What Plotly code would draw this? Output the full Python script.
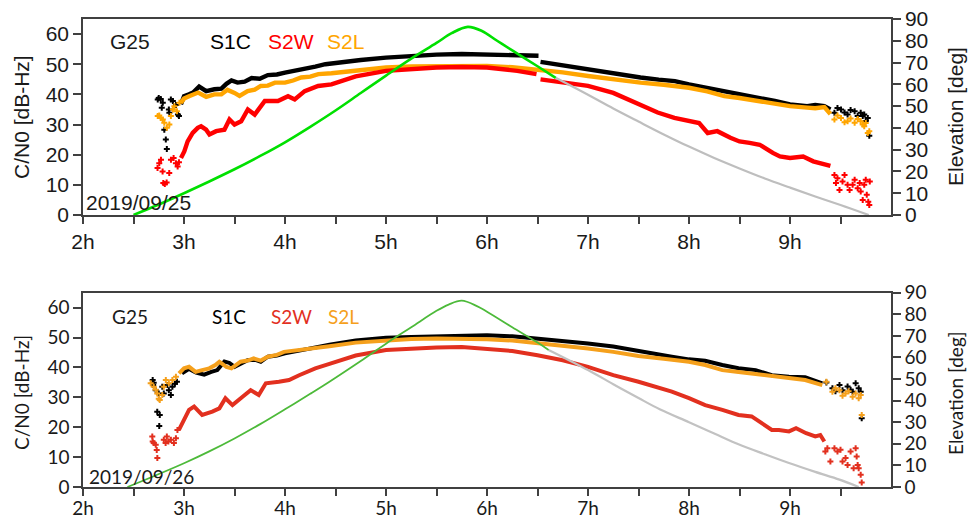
import plotly.graph_objects as go

# ---------------- 2019/09/25 ----------------
# S1C (dense band, None marks the tracking break)
d25_s1c_band_t = [2.97, 3.0, 3.05, 3.09, 3.15, 3.22, 3.3, 3.37, 3.42, 3.47, 3.53, 3.6, 3.67, 3.75, 3.83,
                  3.92, 4.0, 4.1, 4.2, 4.3, 4.4, 4.46, 4.6, 4.75, 5.0, 5.25, 5.5, 5.75, 6.0, 6.25, 6.51,
                  None, 6.53, 6.75, 7.0, 7.25, 7.52, 7.7, 7.86, 8.0, 8.18, 8.35, 8.5, 8.68, 8.85, 9.0,
                  9.1, 9.17, 9.25, 9.34, 9.4]
d25_s1c_band_v = [36.7, 39.4, 40.0, 40.6, 42.6, 41.1, 41.7, 41.9, 43.5, 44.6, 43.9, 44.2, 45.4, 45.2, 46.4,
                  46.6, 47.2, 47.8, 48.6, 49.2, 50.0, 50.3, 50.9, 51.4, 52.2, 52.8, 53.2, 53.4, 53.3, 53.1, 52.8,
                  None, 50.8, 49.6, 48.3, 46.8, 45.6, 44.9, 44.4, 43.3, 42.2, 41.1, 40.0, 38.9, 37.8, 36.7,
                  36.3, 36.1, 36.5, 36.1, 35.0]
d25_s1c_pts_t = [2.74, 2.75, 2.77, 2.78, 2.79, 2.805, 2.82, 2.83, 2.85, 2.855, 2.87, 2.89, 2.92, 2.94, 2.95,
                 9.44, 9.47, 9.505, 9.54, 9.57, 9.6, 9.64, 9.67, 9.70, 9.72, 9.735, 9.75, 9.77, 9.785]
d25_s1c_pts_v = [38.3, 38.8, 38.5, 35.6, 37.2, 28.3, 25.0, 21.9, 35.0, 33.9, 38.3, 37.8, 36.5, 33.3, 32.8,
                 33.9, 35.5, 35.0, 34.0, 33.3, 34.8, 34.4, 32.8, 33.9, 32.8, 33.3, 31.2, 32.2, 26.3]

# S2W
d25_s2w_band_t = [2.97, 3.003, 3.036, 3.086, 3.136, 3.169, 3.219, 3.252, 3.318, 3.40, 3.45, 3.50, 3.566,
                  3.632, 3.70, 3.80, 3.864, 3.93, 4.03, 4.096, 4.195, 4.328, 4.46, 4.7, 5.0, 5.25, 5.5,
                  5.75, 6.0, 6.3, 6.49, None, 6.53, 6.75, 7.0, 7.25, 7.5, 7.69, 7.855, 8.0, 8.1, 8.185,
                  8.28, 8.41, 8.5, 8.6, 8.7, 8.83, 8.9, 9.0, 9.13, 9.23, 9.3, 9.36, 9.4]
d25_s2w_band_v = [18.9, 21.1, 24.4, 27.2, 28.9, 29.4, 28.3, 26.7, 27.8, 28.3, 31.7, 30.0, 31.1,
                  35.0, 33.3, 37.8, 37.8, 37.8, 39.4, 38.3, 41.1, 42.8, 43.3, 46.0, 47.8, 48.5, 48.9,
                  49.1, 48.9, 47.8, 46.7, None, 45.0, 43.9, 42.8, 40.5, 36.6, 34.0, 32.2, 31.1, 30.5, 27.2,
                  27.8, 25.6, 24.4, 23.9, 23.3, 20.6, 19.4, 18.9, 19.4, 17.8, 17.2, 16.7, 16.3]
d25_s2w_pts_t = [2.738, 2.755, 2.772, 2.788, 2.795, 2.81, 2.828, 2.854, 2.871, 2.897, 2.92, 2.937, 2.95,
                 9.44, 9.455, 9.47, 9.49, 9.52, 9.54, 9.57, 9.59, 9.62, 9.64, 9.67, 9.69, 9.70, 9.72,
                 9.735, 9.75, 9.76, 9.775, 9.785, 9.79]
d25_s2w_pts_v = [15.6, 17.2, 18.3, 14.4, 10.6, 10.3, 10.8, 13.9, 18.3, 18.9, 17.2, 16.1, 17.5,
                 13.3, 10.6, 12.2, 8.3, 11.1, 13.3, 10.0, 8.3, 10.0, 11.7, 8.9, 10.6, 7.8, 5.0,
                 10.0, 11.7, 6.7, 4.4, 3.3, 11.1]

# S2L
d25_s2l_band_t = [2.97, 3.0, 3.05, 3.14, 3.22, 3.3, 3.37, 3.43, 3.5, 3.55, 3.63, 3.7, 3.76, 3.83, 3.9,
                  4.0, 4.08, 4.16, 4.25, 4.33, 4.46, 4.7, 5.0, 5.25, 5.5, 5.75, 6.0, 6.25, 6.5, 6.75,
                  7.0, 7.25, 7.52, 7.75, 8.0, 8.18, 8.35, 8.5, 8.68, 8.85, 9.0, 9.17, 9.25, 9.34, 9.4]
d25_s2l_band_v = [37.2, 38.6, 39.4, 40.6, 39.2, 40.0, 40.0, 41.5, 40.5, 39.5, 41.1, 41.6, 42.8, 42.9, 43.9,
                  43.9, 44.6, 45.6, 45.9, 46.7, 47.0, 48.0, 48.9, 49.3, 49.4, 49.6, 49.4, 49.0, 48.3, 47.3,
                  46.1, 45.0, 43.9, 43.2, 42.2, 41.0, 39.4, 38.8, 37.8, 37.0, 36.1, 35.6, 35.4, 35.8, 33.5]
d25_s2l_pts_t = [2.74, 2.755, 2.77, 2.79, 2.805, 2.83, 2.855, 2.87, 2.89, 2.905, 2.93, 2.955,
                 9.44, 9.47, 9.505, 9.54, 9.57, 9.6, 9.64, 9.67, 9.70, 9.72, 9.735, 9.75, 9.77, 9.785]
d25_s2l_pts_v = [32.8, 33.0, 32.2, 31.7, 30.6, 28.9, 30.0, 32.8, 35.0, 36.1, 34.4, 37.2,
                 31.7, 33.0, 32.2, 30.8, 31.1, 32.0, 30.6, 31.8, 31.1, 30.0, 29.4, 30.5, 27.2, 27.8]

# Elevation (rising part in green, setting part in grey)
d25_elev_rise_t = [2.5, 2.75, 3.0, 3.25, 3.5, 3.75, 4.0, 4.25, 4.5, 4.75, 5.0, 5.25, 5.5, 5.65, 5.81,
                   5.95, 6.1, 6.25, 6.5, 6.68]
d25_elev_rise_v = [0, 4.8, 10.0, 15.4, 21.0, 27.0, 33.4, 40.5, 48.0, 56.0, 64.0, 71.8, 79.0, 83.5, 86.4,
                   84.5, 80.0, 75.6, 68.3, 63.0]
d25_elev_set_t = [6.68, 7.0, 7.25, 7.5, 7.75, 8.0, 8.25, 8.5, 8.75, 9.0, 9.25, 9.5, 9.78]
d25_elev_set_v = [63.0, 55.2, 48.9, 42.9, 37.0, 31.4, 26.2, 21.4, 16.8, 12.6, 8.5, 4.6, 0]

# ---------------- 2019/09/26 ----------------
d26_s1c_band_t = [2.98, 3.05, 3.12, 3.2, 3.27, 3.33, 3.4, 3.45, 3.5, 3.57, 3.63, 3.7, 3.76, 3.83, 3.92,
                  4.0, 4.16, 4.33, 4.44, 4.7, 5.0, 5.25, 5.5, 5.75, 6.0, 6.25, 6.5, 6.75, 7.0, 7.25,
                  7.5, 7.67, 7.83, 8.0, 8.16, 8.33, 8.49, 8.66, 8.82, 8.99, 9.15, 9.32]
d26_s1c_band_v = [38.0, 39.5, 38.3, 37.6, 38.5, 39.1, 42.0, 41.5, 40.2, 41.5, 42.4, 42.6, 41.9, 43.6, 44.0,
                  44.7, 45.8, 46.9, 47.6, 49.0, 49.9, 50.2, 50.4, 50.6, 50.8, 50.4, 49.7, 49.0, 48.0, 47.0,
                  45.5, 44.3, 43.6, 42.7, 42.2, 40.8, 39.7, 39.1, 37.4, 36.9, 36.7, 34.7]
d26_s1c_pts_t = [2.69, 2.695, 2.70, 2.72, 2.735, 2.75, 2.755, 2.76, 2.785, 2.80, 2.835, 2.85, 2.87, 2.885,
                 2.91, 2.93,
                 9.36, 9.42, 9.45, 9.49, 9.52, 9.57, 9.6, 9.62, 9.65, 9.68, 9.70, 9.71]
d26_s1c_pts_v = [35.8, 34.1, 34.9, 32.4, 25.2, 31.3, 20.4, 24.1, 33.5, 31.3, 34.1, 32.4, 30.8, 33.5,
                 34.5, 35.2,
                 35.0, 33.0, 32.0, 34.1, 32.4, 33.6, 32.5, 31.9, 34.7, 33.0, 31.9, 23.0]

d26_s2w_band_t = [2.95, 3.0, 3.05, 3.10, 3.18, 3.28, 3.35, 3.41, 3.48, 3.58, 3.66, 3.74, 3.81, 3.94, 4.04,
                  4.14, 4.30, 4.44, 4.7, 5.0, 5.25, 5.5, 5.75, 6.0, 6.25, 6.5, 6.75, 7.0, 7.25, 7.5,
                  7.67, 7.83, 8.0, 8.16, 8.33, 8.49, 8.62, 8.69, 8.82, 8.89, 8.99, 9.06, 9.16, 9.25,
                  9.30, 9.34]
d26_s2w_band_v = [19.1, 22.4, 25.8, 26.9, 24.1, 25.2, 26.3, 29.7, 27.4, 30.2, 32.4, 30.8, 34.7, 35.2, 35.8,
                  37.4, 39.7, 41.2, 44.0, 45.8, 46.4, 46.7, 46.8, 46.3, 45.5, 44.1, 42.4, 40.2, 37.4, 35.2,
                  33.6, 31.9, 29.7, 27.4, 25.8, 24.1, 23.6, 21.9, 19.1, 19.1, 18.6, 19.7, 18.0, 16.9,
                  17.4, 15.2]
d26_s2w_pts_t = [2.686, 2.69, 2.70, 2.72, 2.73, 2.736, 2.80, 2.818, 2.83, 2.845, 2.87, 2.90, 2.92, 2.935,
                 9.35, 9.37, 9.40, 9.44, 9.47, 9.50, 9.52, 9.55, 9.57, 9.60, 9.63, 9.65, 9.66, 9.67,
                 9.68, 9.70, 9.71]
d26_s2w_pts_v = [16.9, 15.2, 14.7, 14.1, 12.4, 9.7, 15.8, 14.7, 16.9, 15.2, 15.8, 14.7, 16.3, 19.1,
                 11.9, 13.0, 8.5, 13.0, 11.9, 12.5, 8.5, 9.7, 7.4, 11.9, 6.3, 13.0, 10.2, 7.4,
                 6.3, 4.1, 1.5]

d26_s2l_band_t = [2.95, 3.0, 3.05, 3.115, 3.18, 3.25, 3.31, 3.35, 3.42, 3.47, 3.56, 3.63, 3.69, 3.76, 3.83,
                  3.92, 3.99, 4.16, 4.33, 4.44, 4.7, 5.0, 5.25, 5.5, 5.75, 6.0, 6.25, 6.5, 6.75, 7.0,
                  7.25, 7.5, 7.75, 8.0, 8.16, 8.33, 8.49, 8.66, 8.82, 8.99, 9.15, 9.32]
d26_s2l_band_v = [38.0, 39.7, 40.2, 38.5, 39.1, 39.7, 40.8, 41.9, 40.2, 39.7, 41.9, 42.3, 43.0, 42.3, 43.6,
                  44.2, 45.2, 45.8, 46.7, 47.1, 48.3, 49.1, 49.5, 49.7, 49.7, 49.4, 49.0, 48.2, 47.4, 46.3,
                  45.2, 43.8, 42.9, 41.9, 40.8, 39.1, 38.5, 37.8, 37.0, 36.3, 35.8, 34.1]
d26_s2l_pts_t = [2.67, 2.70, 2.72, 2.735, 2.75, 2.76, 2.785, 2.80, 2.82, 2.85, 2.885, 2.92,
                 9.36, 9.42, 9.45, 9.49, 9.52, 9.55, 9.58, 9.62, 9.65, 9.68, 9.70, 9.71]
d26_s2l_pts_v = [34.7, 33.5, 32.5, 31.3, 29.5, 29.1, 30.8, 33.5, 35.8, 34.7, 35.8, 36.9,
                 35.2, 31.9, 33.0, 32.4, 30.5, 31.3, 32.0, 30.2, 31.3, 29.7, 30.8, 24.1]

d26_elev_rise_t = [2.44, 2.7, 3.0, 3.25, 3.5, 3.75, 4.0, 4.25, 4.44, 4.75, 5.0, 5.25, 5.5, 5.62, 5.75,
                   5.9, 6.0, 6.25, 6.5, 6.61]
d26_elev_rise_v = [0, 5.0, 11.0, 16.5, 22.5, 29.0, 36.0, 43.2, 48.8, 58.4, 66.4, 74.0, 81.6, 84.5, 86.3,
                   83.8, 81.2, 74.0, 66.9, 63.5]
d26_elev_set_t = [6.61, 7.0, 7.25, 7.5, 7.71, 8.0, 8.25, 8.49, 8.75, 8.99, 9.25, 9.49, 9.68]
d26_elev_set_v = [63.5, 54.2, 47.6, 41.2, 36.0, 30.0, 24.8, 19.8, 15.2, 11.1, 7.0, 3.4, 0]

# Axis ticks
hour_ticks = [2, 2.5, 3, 3.5, 4, 4.5, 5, 5.5, 6, 6.5, 7, 7.5, 8, 8.5, 9, 9.5]
hour_text = ["2h", "", "3h", "", "4h", "", "5h", "", "6h", "", "7h", "", "8h", "", "9h", ""]
cn0_ticks = [0, 10, 20, 30, 40, 50, 60]
elev_ticks = [0, 10, 20, 30, 40, 50, 60, 70, 80, 90]

# ---------------- figure ----------------
W, H = 968, 520
ML, MR, MT, MB = 83, 77, 19, 33
PW, PH = W - ML - MR, H - MT - MB


def fx(px):
    return (px - ML) / PW


def fy(py):
    return (H - MB - py) / PH


panels = [
    dict(xa="x", ya="y", ya_el="y2", font="Liberation Sans, Arial, sans-serif", size=21,
         colors=dict(s1c="#000000", s2w="#FF0000", s2l="#FFA500", rise="#00E000", set="#BEBEBE"),
         elev_w=2.6, band_w=4.4,
         data=[("s1c", d25_s1c_band_t, d25_s1c_band_v, d25_s1c_pts_t, d25_s1c_pts_v),
               ("s2l", d25_s2l_band_t, d25_s2l_band_v, d25_s2l_pts_t, d25_s2l_pts_v),
               ("s2w", d25_s2w_band_t, d25_s2w_band_v, d25_s2w_pts_t, d25_s2w_pts_v)],
         elev=(d25_elev_rise_t, d25_elev_rise_v, d25_elev_set_t, d25_elev_set_v)),
    dict(xa="x2", ya="y3", ya_el="y4", font="Lato, Open Sans, sans-serif", size=19,
         colors=dict(s1c="#000000", s2w="#E2301F", s2l="#F5A01C", rise="#4DBA3A", set="#C2C2C2"),
         elev_w=1.8, band_w=4.0,
         data=[("s1c", d26_s1c_band_t, d26_s1c_band_v, d26_s1c_pts_t, d26_s1c_pts_v),
               ("s2l", d26_s2l_band_t, d26_s2l_band_v, d26_s2l_pts_t, d26_s2l_pts_v),
               ("s2w", d26_s2w_band_t, d26_s2w_band_v, d26_s2w_pts_t, d26_s2w_pts_v)],
         elev=(d26_elev_rise_t, d26_elev_rise_v, d26_elev_set_t, d26_elev_set_v)),
]

fig = go.Figure()
for p in panels:
    c = p["colors"]
    for key, bt, bv, st, sv in p["data"]:
        fig.add_trace(go.Scatter(
            x=bt, y=bv, xaxis=p["xa"], yaxis=p["ya"], mode="lines",
            line=dict(color=c[key], width=p["band_w"]),
            connectgaps=False, showlegend=False, hoverinfo="skip"))
        fig.add_trace(go.Scatter(
            x=st, y=sv, xaxis=p["xa"], yaxis=p["ya"], mode="markers",
            marker=dict(symbol="cross", size=5, color=c[key]),
            showlegend=False, hoverinfo="skip"))
    rt, rv, gt, gv = p["elev"]
    fig.add_trace(go.Scatter(x=gt, y=gv, xaxis=p["xa"], yaxis=p["ya_el"], mode="lines",
                             line=dict(color=c["set"], width=2.2, shape="spline"),
                             showlegend=False, hoverinfo="skip"))
    fig.add_trace(go.Scatter(x=rt, y=rv, xaxis=p["xa"], yaxis=p["ya_el"], mode="lines",
                             line=dict(color=c["rise"], width=p["elev_w"], shape="spline"),
                             showlegend=False, hoverinfo="skip"))

AX = "#404040"
TXT = "#1a1a1a"


def xaxis_cfg(anchor, font, size, standoff=0):
    return dict(domain=[0, 1], anchor=anchor, range=[2, 10], tickmode="array",
                tickvals=hour_ticks, ticktext=hour_text, ticks="outside", ticklen=7,
                tickwidth=1.5, tickcolor=AX, showline=True, linecolor=AX, linewidth=1.5,
                mirror=True, showgrid=False, zeroline=False, automargin=False,
                ticklabelstandoff=standoff,
                tickfont=dict(family=font, size=size, color=TXT))


def yaxis_cfg(anchor, dom, font, size):
    return dict(domain=dom, anchor=anchor, range=[0, 65], tickmode="array",
                tickvals=cn0_ticks, ticks="outside", ticklen=8, tickwidth=1.5, tickcolor=AX,
                showline=True, linecolor=AX, linewidth=1.5, showgrid=False, zeroline=False,
                automargin=False, tickfont=dict(family=font, size=size, color=TXT))


def elev_cfg(anchor, over, font, size):
    return dict(overlaying=over, anchor=anchor, side="right", range=[0, 90], tickmode="array",
                tickvals=elev_ticks, ticks="outside", ticklen=8, tickwidth=1.5, tickcolor=AX,
                showline=True, linecolor=AX, linewidth=1.5, showgrid=False, zeroline=False,
                automargin=False, tickfont=dict(family=font, size=size, color=TXT))


top_dom = [fy(215), fy(19)]
bot_dom = [fy(487), fy(292.7)]
f1, s1 = panels[0]["font"], panels[0]["size"]
f2, s2 = panels[1]["font"], panels[1]["size"]

fig.update_layout(
    template="none",
    width=W, height=H, margin=dict(l=ML, r=MR, t=MT, b=MB, autoexpand=False),
    paper_bgcolor="white", plot_bgcolor="white",
    xaxis=xaxis_cfg("y", f1, s1),
    yaxis=yaxis_cfg("x", top_dom, f1, s1),
    yaxis2=elev_cfg("x", "y", f1, s1),
    xaxis2=xaxis_cfg("y3", f2, s2, standoff=-4),
    yaxis3=yaxis_cfg("x2", bot_dom, f2, s2),
    yaxis4=elev_cfg("x2", "y3", f2, s2),
)


def label(text, x_px, y_px, font, size, color=TXT, angle=0, anchor="left"):
    fig.add_annotation(text=text, x=fx(x_px), y=fy(y_px), xref="paper", yref="paper",
                       xanchor=anchor, yanchor="middle", showarrow=False, textangle=angle,
                       font=dict(family=font, size=size, color=color))


# panel 1 labels
label("G25", 108, 41, f1, s1)
label("S1C", 208, 41, f1, s1, panels[0]["colors"]["s1c"])
label("S2W", 266, 41, f1, s1, panels[0]["colors"]["s2w"])
label("S2L", 325, 41, f1, s1, panels[0]["colors"]["s2l"])
label("2019/09/25", 84, 202, f1, s1)
label("C/N0 [dB-Hz]", 21, 117, f1, s1, angle=-90, anchor="center")
label("Elevation [deg]", 955, 117, f1, s1, angle=-90, anchor="center")

# panel 2 labels
label("G25", 110, 316, f2, s2)
label("S1C", 210, 316, f2, s2, panels[1]["colors"]["s1c"])
label("S2W", 269, 316, f2, s2, panels[1]["colors"]["s2w"])
label("S2L", 326, 316, f2, s2, panels[1]["colors"]["s2l"])
label("2019/09/26", 87, 476, f2, s2)
label("C/N0 [dB-Hz]", 21, 393, f2, s2, angle=-90, anchor="center")
label("Elevation [deg]", 955, 393, f2, s2, angle=-90, anchor="center")

fig.write_html("out.html")
